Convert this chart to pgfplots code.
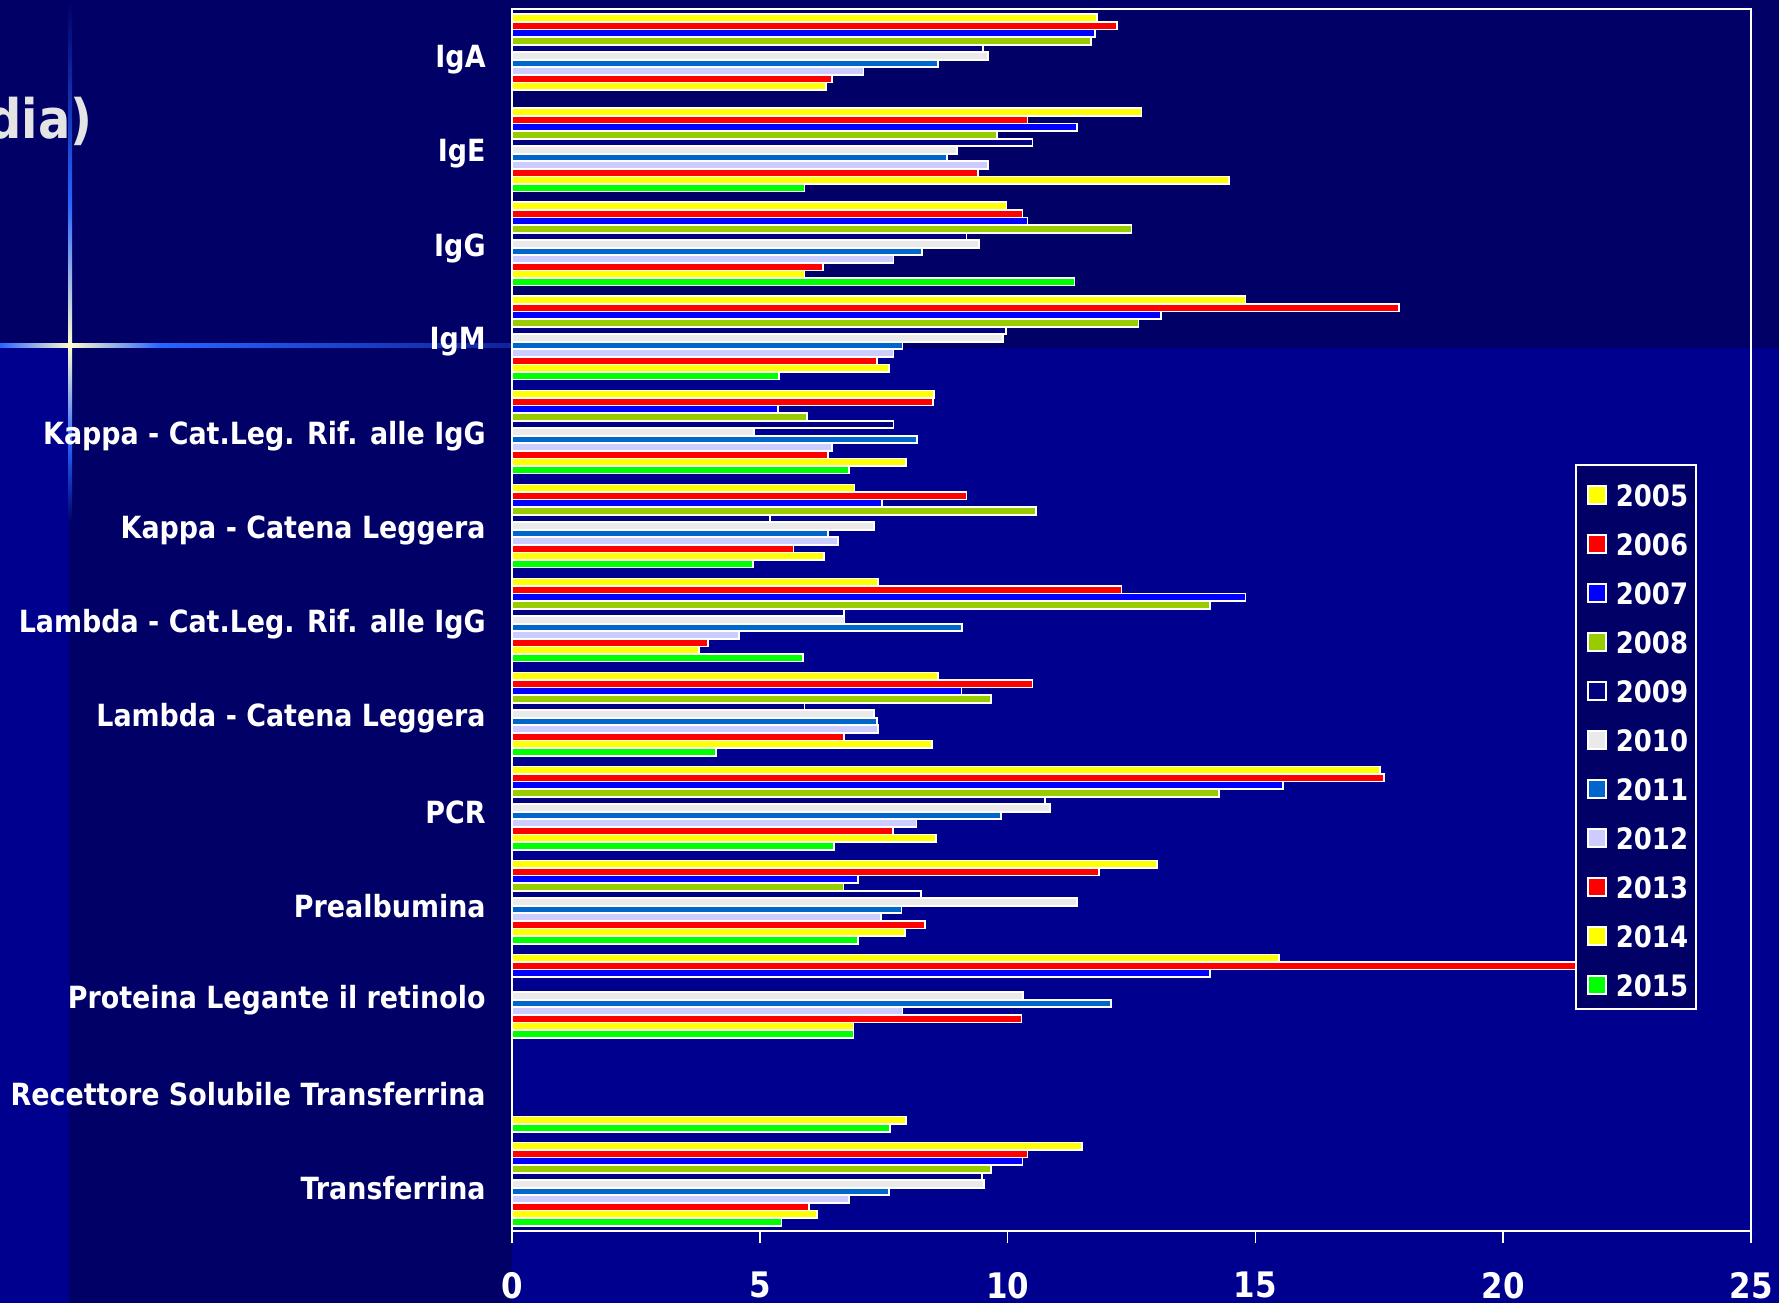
\documentclass[border=0pt]{standalone}
\usepackage{pgfplots}
\pgfplotsset{compat=1.18}
\usepackage{fontspec}
\setmainfont{DejaVu Sans}[FakeStretch=0.88]
\definecolor{bgdark}{RGB}{0,0,102}
\definecolor{bgbright}{RGB}{0,0,143}
\definecolor{sparkblue}{RGB}{40,100,255}
\definecolor{sparkpale}{RGB}{255,255,205}
\definecolor{c05}{HTML}{FFFF00}
\definecolor{c06}{HTML}{FF0000}
\definecolor{c07}{HTML}{0000FF}
\definecolor{c08}{HTML}{99CC00}
\definecolor{c09}{HTML}{000080}
\definecolor{c10}{HTML}{EAEAEA}
\definecolor{c11}{HTML}{0066CC}
\definecolor{c12}{HTML}{CCCCFF}
\definecolor{c13}{HTML}{FF0000}
\definecolor{c14}{HTML}{FFFF00}
\definecolor{c15}{HTML}{00FF00}
\definecolor{titlegrey}{RGB}{228,228,228}
\begin{document}
\begin{tikzpicture}
% background
\fill[bgbright] (0mm,0mm) rectangle (177.9mm,130.3mm);
\fill[bgdark] (0mm,95.5mm) rectangle (177.9mm,130.3mm);
\fill[bgdark] (6.9mm,0mm) rectangle (51.2mm,95.5mm);
\useasboundingbox (0mm,0mm) rectangle (177.9mm,130.3mm);
% sparkle
\shade[left color=sparkblue, right color=sparkpale] (0mm,95.5mm) rectangle (7mm,95.9mm);
\shade[left color=sparkpale, right color=sparkblue] (7mm,95.5mm) rectangle (16mm,95.9mm);
\shade[left color=sparkblue, right color=bgdark] (16mm,95.5mm) rectangle (70mm,95.9mm);
\shade[top color=sparkblue, bottom color=sparkpale] (6.8mm,110mm) rectangle (7.2mm,95.7mm);
\shade[top color=bgdark, bottom color=sparkblue] (6.8mm,130.3mm) rectangle (7.2mm,110mm);
\shade[top color=sparkpale, bottom color=sparkblue] (6.8mm,95.7mm) rectangle (7.2mm,86mm);
\shade[top color=sparkblue, bottom color=bgdark] (6.8mm,86mm) rectangle (7.2mm,78mm);
% title fragment
\node[anchor=base east, inner sep=0pt, text=titlegrey, font=\fontsize{15.5}{17}\selectfont\bfseries] at (9.3mm,116.4mm) {dia)};
\begin{axis}[
  at={(51.2mm,7.2mm)}, anchor=south west,
  scale only axis, width=123.9mm, height=122.2mm,
  xbar, bar width=0.0805,
  xmin=0, xmax=25, ymin=-0.5, ymax=12.5,
  y dir=reverse,
  axis line style={white, line width=0.5pt},
  xtick={0,5,10,15,20,25},
  xtick pos=bottom,
  tick align=outside,
  major tick length=1.2mm,
  tick style={white, line width=0.5pt},
  x tick label style={text=white, font=\fontsize{10}{11}\selectfont\bfseries, yshift=-1.68mm},
  /pgf/number format/assume math mode=true,
  ytick={0,...,12},
  yticklabels={IgA,IgE,IgG,IgM,Kappa - Cat.Leg. Rif. alle IgG,Kappa - Catena Leggera,Lambda - Cat.Leg. Rif. alle IgG,Lambda - Catena Leggera,PCR,Prealbumina,Proteina Legante il retinolo,Recettore Solubile Transferrina,Transferrina},
  ytick pos=left,
  ytick style={draw=none},
  y tick label style={text=white, font=\fontsize{8.7}{10}\selectfont\bfseries, xshift=-0.2mm, yshift=-0.4mm},
  extra y ticks={-0.5,0.5,1.5,2.5,3.5,4.5,5.5,6.5,7.5,8.5,9.5,10.5,11.5,12.5},
  extra y tick labels={},
  extra y tick style={ytick style={white, line width=0.5pt}, tick align=outside, major tick length=1.2mm},
  every axis plot/.append style={draw=white, line width=0.5pt},
  every axis plot post/.append style={legend image code/.code={
      \path[draw=none, fill=none] (-0.5mm,0mm) -- (2.3mm,0mm);
      \draw[##1, draw=white, line width=0.5pt] (0mm,-0.9mm) rectangle (1.8mm,0.9mm);}},
  legend style={at={(0.8588,0.6268)}, anchor=north west, fill=none, draw=none,
    text=white, font=\fontsize{8.4}{10}\selectfont\bfseries, inner xsep=0.6mm, inner ysep=1.85mm,
    row sep=2.70mm,
    nodes={inner xsep=0.5mm, inner ysep=0pt, text height=2.2mm, text depth=0pt}},
  legend cell align=left,
]
\addplot[fill=c05, bar shift=-0.4025] coordinates {(11.8,0) (12.7,1) (9.98,2) (14.8,3) (8.51,4) (6.91,5) (7.39,6) (8.6,7) (17.52,8) (13.01,9) (15.47,10) (11.5,12)};
\addplot[fill=c06, bar shift=-0.322] coordinates {(12.2,0) (10.4,1) (10.3,2) (17.9,3) (8.5,4) (9.17,5) (12.3,6) (10.5,7) (17.6,8) (11.85,9) (22,10) (10.4,12)};
\addplot[fill=c07, bar shift=-0.2415] coordinates {(11.77,0) (11.4,1) (10.4,2) (13.1,3) (5.36,4) (7.46,5) (14.8,6) (9.07,7) (15.56,8) (6.98,9) (14.08,10) (10.3,12)};
\addplot[fill=c08, bar shift=-0.161] coordinates {(11.69,0) (9.79,1) (12.5,2) (12.64,3) (5.95,4) (10.58,5) (14.08,6) (9.66,7) (14.27,8) (6.69,9) (9.66,12)};
\addplot[fill=c09, bar shift=-0.0805] coordinates {(9.5,0) (10.5,1) (9.17,2) (9.97,3) (7.7,4) (5.2,5) (6.7,6) (5.9,7) (10.76,8) (8.25,9) (9.49,12)};
\addplot[fill=c10, bar shift=0] coordinates {(9.61,0) (8.98,1) (9.43,2) (9.91,3) (4.88,4) (7.3,5) (6.71,6) (7.3,7) (10.86,8) (11.4,9) (10.31,10) (9.52,12)};
\addplot[fill=c11, bar shift=0.0805] coordinates {(8.6,0) (8.78,1) (8.27,2) (7.88,3) (8.17,4) (6.37,5) (9.08,6) (7.37,7) (9.86,8) (7.86,9) (12.08,10) (7.61,12)};
\addplot[fill=c12, bar shift=0.161] coordinates {(7.09,0) (9.6,1) (7.7,2) (7.7,3) (6.46,4) (6.58,5) (4.58,6) (7.39,7) (8.16,8) (7.45,9) (7.88,10) (6.8,12)};
\addplot[fill=c13, bar shift=0.2415] coordinates {(6.46,0) (9.4,1) (6.28,2) (7.36,3) (6.37,4) (5.68,5) (3.95,6) (6.7,7) (7.68,8) (8.34,9) (10.28,10) (5.99,12)};
\addplot[fill=c14, bar shift=0.322] coordinates {(6.34,0) (14.47,1) (5.9,2) (7.61,3) (7.95,4) (6.29,5) (3.77,6) (8.47,7) (8.55,8) (7.93,9) (6.89,10) (7.95,11) (6.16,12)};
\addplot[fill=c15, bar shift=0.4025] coordinates {(5.9,1) (11.35,2) (5.38,3) (6.8,4) (4.87,5) (5.87,6) (4.12,7) (6.5,8) (6.98,9) (6.89,10) (7.62,11) (5.44,12)};
\legend{2005,2006,2007,2008,2009,2010,2011,2012,2013,2014,2015}
% legend frame (drawn over the bars, under the legend entries)
\fill[bgdark, draw=white, line width=0.5pt] (rel axis cs:0.8588,0.6268) rectangle (rel axis cs:0.9556,0.1817);
\end{axis}
\end{tikzpicture}
\end{document}
